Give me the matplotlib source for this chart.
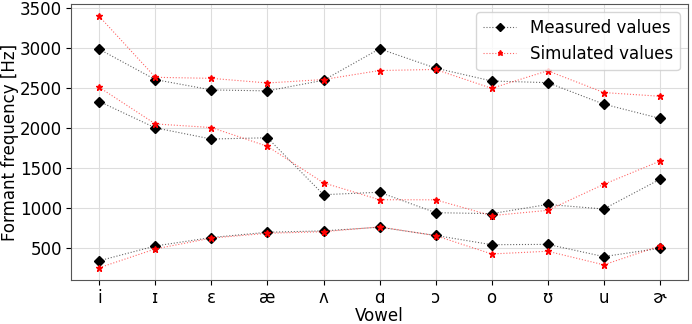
import matplotlib.pyplot as plt

vowels = ["i", "ɪ", "ɛ", "æ", "ʌ", "ɑ", "ɔ", "o", "ʊ", "u", "ɚ"]

# measured formants [Hz]
f1_meas = [336, 521, 627, 693, 710, 756, 653, 537, 541, 388, 492]
f2_meas = [2330, 2000, 1860, 1876, 1163, 1194, 938, 926, 1041, 984, 1355]
f3_meas = [2984, 2604, 2475, 2463, 2596, 2990, 2748, 2587, 2566, 2297, 2119]

# simulated formants [Hz]
f1_sim = [249, 484, 620, 680, 700, 760, 650, 421, 455, 285, 521]
f2_sim = [2507, 2049, 2004, 1769, 1311, 1100, 1099, 901, 967, 1293, 1583]
f3_sim = [3395, 2633, 2620, 2562, 2605, 2718, 2731, 2495, 2715, 2442, 2396]

plt.rcParams["font.size"] = 12

fig, ax = plt.subplots(figsize=(6.92, 3.24), dpi=100)
fig.subplots_adjust(left=0.103, right=0.994, top=0.988, bottom=0.135)

x = list(range(len(vowels)))
for i, (meas, sim) in enumerate(zip([f1_meas, f2_meas, f3_meas], [f1_sim, f2_sim, f3_sim])):
    ax.plot(x, meas, color=(0, 0, 0, 0.6), linestyle=":", linewidth=0.8,
            marker="D", markersize=5.5, markerfacecolor="k", markeredgecolor="k",
            label="Measured values" if i == 0 else None)
    ax.plot(x, sim, color=(1, 0, 0, 0.6), linestyle=":", linewidth=0.8,
            marker="*", markersize=5, markerfacecolor="red", markeredgecolor="red",
            label="Simulated values" if i == 0 else None)

ax.set_xticks(x)
ax.set_xticklabels(vowels)
ax.set_xlabel("Vowel", labelpad=0.5)
ax.set_ylabel("Formant frequency [Hz]", labelpad=1)
ax.tick_params(axis="y", labelsize=12, pad=3)
ax.tick_params(axis="x", labelsize=12, pad=2.5)
ax.grid(True, color="#dddddd", linewidth=0.8)
ax.set_axisbelow(True)
for s in ax.spines.values():
    s.set_color("#555555")
ax.legend(loc="upper right", markerscale=0.75)

fig.savefig("out.png")
